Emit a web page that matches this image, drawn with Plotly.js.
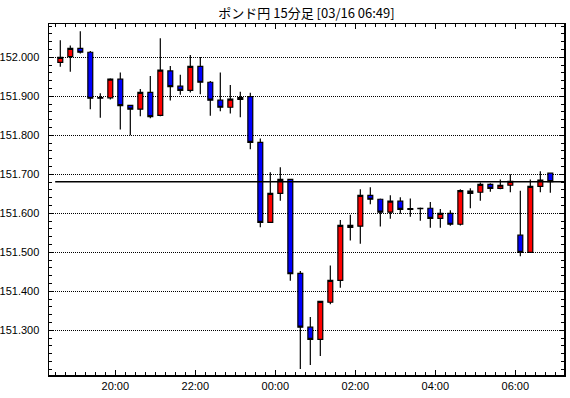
<!DOCTYPE html>
<html><head><meta charset="utf-8">
<script src="https://cdn.plot.ly/plotly-3.0.1.min.js"></script>
<style>html,body{margin:0;padding:0;background:#fff}#chart{width:570px;height:398px}</style>
</head><body><div id="chart"></div>
<script>
// 15-minute bars, start time of each bar (JST)
const barTimes = [
 "2023-03-15 18:30","2023-03-15 18:45","2023-03-15 19:00","2023-03-15 19:15","2023-03-15 19:30","2023-03-15 19:45",
 "2023-03-15 20:00","2023-03-15 20:15","2023-03-15 20:30","2023-03-15 20:45","2023-03-15 21:00","2023-03-15 21:15",
 "2023-03-15 21:30","2023-03-15 21:45","2023-03-15 22:00","2023-03-15 22:15","2023-03-15 22:30","2023-03-15 22:45",
 "2023-03-15 23:00","2023-03-15 23:15","2023-03-15 23:30","2023-03-15 23:45","2023-03-16 00:00","2023-03-16 00:15",
 "2023-03-16 00:30","2023-03-16 00:45","2023-03-16 01:00","2023-03-16 01:15","2023-03-16 01:30","2023-03-16 01:45",
 "2023-03-16 02:00","2023-03-16 02:15","2023-03-16 02:30","2023-03-16 02:45","2023-03-16 03:00","2023-03-16 03:15",
 "2023-03-16 03:30","2023-03-16 03:45","2023-03-16 04:00","2023-03-16 04:15","2023-03-16 04:30","2023-03-16 04:45",
 "2023-03-16 05:00","2023-03-16 05:15","2023-03-16 05:30","2023-03-16 05:45","2023-03-16 06:00","2023-03-16 06:15",
 "2023-03-16 06:30","2023-03-16 06:45"
];
const openPrices = [
 151.987,152.002,152.023,152.013,151.897,151.896,151.944,151.877,151.867,151.910,
 151.851,151.965,151.926,151.915,151.977,151.936,151.890,151.872,151.892,151.899,
 151.782,151.577,151.651,151.687,151.446,151.308,151.277,151.372,151.428,151.569,
 151.567,151.646,151.636,151.603,151.631,151.612,151.612,151.613,151.587,151.600,
 151.572,151.657,151.654,151.674,151.664,151.672,151.544,151.500,151.669,151.703
];
const highPrices = [
 152.044,152.030,152.067,152.016,151.908,151.946,151.961,151.877,151.919,151.952,
 152.049,151.978,151.955,152.006,152.001,151.939,151.961,151.929,151.912,151.909,
 151.792,151.705,151.718,151.687,151.452,151.334,151.376,151.466,151.583,151.596,
 151.662,151.667,151.638,151.646,151.641,151.638,151.615,151.629,151.611,151.608,
 151.662,151.664,151.679,151.677,151.687,151.700,151.658,151.687,151.708,151.703
];
const lowPrices = [
 151.976,151.963,152.010,151.867,151.845,151.892,151.815,151.800,151.849,151.844,
 151.849,151.889,151.904,151.910,151.905,151.850,151.862,151.856,151.846,151.764,
 151.564,151.577,151.632,151.427,151.201,151.211,151.234,151.367,151.409,151.530,
 151.522,151.623,151.566,151.586,151.599,151.591,151.581,151.563,151.563,151.568,
 151.569,151.613,151.632,151.655,151.662,151.654,151.490,151.500,151.654,151.653
];
const closePrices = [
 152.000,152.023,152.013,151.895,151.895,151.944,151.876,151.867,151.910,151.848,
 151.967,151.925,151.915,151.977,151.936,151.890,151.872,151.893,151.897,151.782,
 151.577,151.651,151.687,151.445,151.308,151.277,151.374,151.428,151.569,151.564,
 151.646,151.636,151.603,151.631,151.610,151.610,151.613,151.587,151.600,151.572,
 151.658,151.651,151.674,151.664,151.672,151.682,151.500,151.669,151.685,151.681
];
const yTickVals = [151.3,151.4,151.5,151.6,151.7,151.8,151.9,152.0];
const xTickVals = ["2023-03-15 20:00","2023-03-15 22:00","2023-03-16 00:00","2023-03-16 02:00","2023-03-16 04:00","2023-03-16 06:00"];
const xTickText = ["20:00","22:00","00:00","02:00","04:00","06:00"];
const titleText = "ポンド円 15分足 [03/16 06:49]";

// each bar is drawn at the middle of its 15-minute period
function mid(s){
  const ms = Date.parse(s.replace(" ","T")+":00Z") + 7.5*60*1000;
  return new Date(ms).toISOString().replace("T"," ").replace("Z","");
}
const xMid = barTimes.map(mid);
const lastClose = closePrices[closePrices.length-1];

const trace = {
  type:"candlestick", x:xMid, open:openPrices, high:highPrices, low:lowPrices, close:closePrices,
  increasing:{fillcolor:"#ff0000", line:{color:"#000000", width:1.2}},
  decreasing:{fillcolor:"#0000ff", line:{color:"#000000", width:1.2}},
  whiskerwidth:0, hoverinfo:"skip", showlegend:false
};

const tickFont = {family:"Liberation Sans, Arial, sans-serif", size:11, color:"#000"};
const layout = {
  width:570, height:398,
  margin:{l:49, r:6, t:24, b:23, pad:0},
  paper_bgcolor:"#fff", plot_bgcolor:"#fff",
  showlegend:false,
  title:{text:titleText, font:{family:"Noto Sans CJK JP", size:13, color:"#000"},
         xref:"paper", x:0.5, xanchor:"center", yref:"container", y:1-13/398, yanchor:"middle"},
  xaxis:{
    type:"date", range:["2023-03-15 18:20:33","2023-03-16 07:13:00"],
    tickmode:"array", tickvals:xTickVals, ticktext:xTickText,
    ticks:"inside", ticklen:5, tickwidth:1, tickcolor:"#000",
    showline:true, linecolor:"#000", linewidth:1.5, mirror:"allticks",
    showgrid:false, zeroline:false, rangeslider:{visible:false},
    minor:{dtick:900000, tick0:"2023-03-15 18:00", ticks:"inside", ticklen:3, tickwidth:1, tickcolor:"#000", showgrid:false},
    tickfont:tickFont, fixedrange:true
  },
  yaxis:{
    range:[151.1854, 152.0854],
    tickmode:"array", tickvals:yTickVals, ticktext:yTickVals.map(v=>v.toFixed(3)),
    ticks:"inside", ticklen:5, tickwidth:1, tickcolor:"#000",
    showline:true, linecolor:"#000", linewidth:1.5, mirror:"allticks",
    showgrid:true, gridcolor:"#000", griddash:"1px,1px", gridwidth:1, zeroline:false,
    minor:{dtick:0.02, tick0:151.3, ticks:"inside", ticklen:3, tickwidth:1, tickcolor:"#000", showgrid:false},
    tickfont:tickFont, ticklabelstandoff:6, fixedrange:true
  },
  shapes:[{type:"line", xref:"paper", x0:0.012, x1:1, yref:"y", y0:lastClose, y1:lastClose,
           line:{color:"#000", width:1.5}}]
};
Plotly.newPlot("chart", [trace], layout, {displayModeBar:false, staticPlot:true});
</script></body></html>
